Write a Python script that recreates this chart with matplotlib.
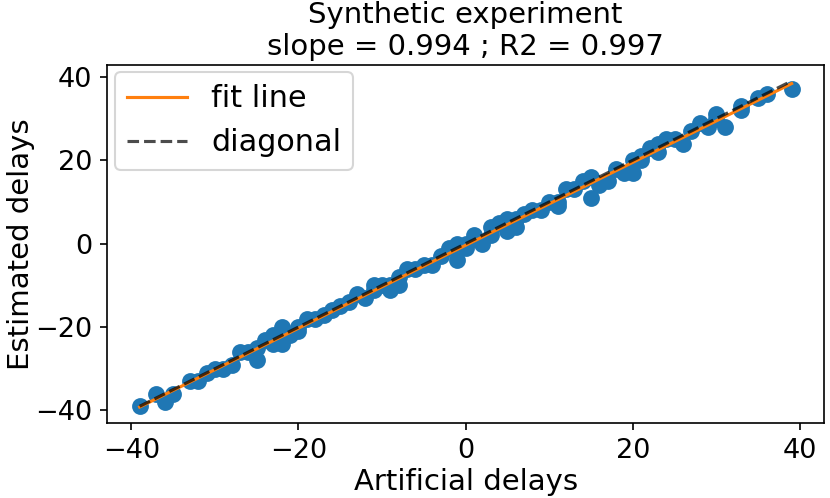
"""Synthetic experiment: estimated vs artificial delays."""

import matplotlib

matplotlib.use("Agg")
import matplotlib.pyplot as plt
import numpy as np

# artificial delay (x) and the estimated delay read back (y)
artificial = [
    -39, -37, -36, -35, -33, -32, -31, -30, -29, -28,
    -27, -26, -25, -25, -24, -23, -23, -22, -22, -21,
    -20, -20, -19, -18, -17, -16, -15, -14, -13, -12,
    -11, -11, -10, -9, -9, -8, -8, -7, -6, -5,
    -4, -3, -2, -1, -1, 0, 0, 1, 1, 2,
    3, 3, 4, 5, 5, 6, 6, 7, 8, 9,
    10, 11, 11, 12, 13, 14, 15, 15, 16, 17,
    18, 19, 20, 20, 21, 21, 22, 23, 23, 24,
    25, 26, 27, 28, 29, 30, 30, 31, 33, 33,
    35, 36, 39,
]
estimated = [
    -39, -36, -38, -36, -33, -33, -31, -30, -30, -29,
    -26, -26, -25, -28, -23, -24, -22, -20, -24, -22,
    -20, -21, -18, -18, -17, -16, -15, -14, -12, -13,
    -10, -11, -10, -10, -11, -8, -10, -6, -6, -5,
    -5, -3, -1, 0, -4, 0, -1, 2, 1, 0,
    4, 2, 5, 3, 6, 4, 6, 7, 8, 8,
    10, 9, 10, 13, 13, 15, 11, 16, 14, 15,
    18, 17, 20, 17, 20, 21, 23, 22, 24, 25,
    25, 24, 27, 29, 28, 30, 31, 28, 33, 32,
    35, 36, 37,
]
title_text = "Synthetic experiment\nslope = 0.994 ; R2 = 0.997"

x = np.array(artificial, dtype=float)
y = np.array(estimated, dtype=float)
slope, intercept = np.polyfit(x, y, 1)
x_line = np.array([x.min(), x.max()])

fig, ax = plt.subplots(figsize=(830 / 150, 498 / 150), dpi=150)
fig.subplots_adjust(left=0.129, right=0.993, bottom=0.150, top=0.870)

ax.scatter(x, y, s=50, color="#1f77b4")
ax.plot(x_line, slope * x_line + intercept, color="#ff7f0e", label="fit line")
ax.plot(x_line, x_line, "k--", alpha=0.7, label="diagonal")

ax.set_xlabel("Artificial delays", fontsize=14)
ax.set_ylabel("Estimated delays", fontsize=14)
ax.xaxis.set_label_coords(0.5, -0.125)
ax.yaxis.set_label_coords(-0.1, 0.5)
ax.set_title(title_text, fontsize=14, pad=4.5)
ax.tick_params(labelsize=13)
ax.legend(loc="upper left", fontsize=14.5, borderaxespad=0.25)

fig.savefig("out.png", dpi=150)
